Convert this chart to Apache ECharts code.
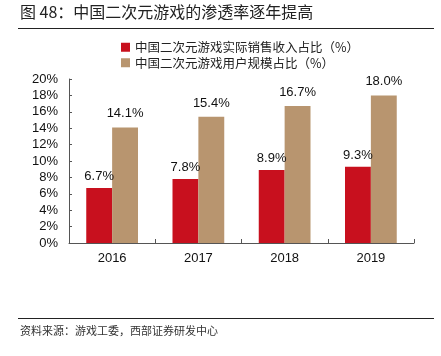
<!DOCTYPE html>
<html><head><meta charset="utf-8">
<script src="https://cdn.jsdelivr.net/npm/echarts@6/dist/echarts.min.js"></script>
<style>html,body{margin:0;padding:0;background:#fff}#c{width:441px;height:356px}</style>
</head><body><div id="c"></div>
<script>
var categories = ['2016', '2017', '2018', '2019'];
var salesShare = [6.7, 7.8, 8.9, 9.3];
var userShare = [14.1, 15.4, 16.7, 18.0];
var seriesNames = ['中国二次元游戏实际销售收入占比（%）', '中国二次元游戏用户规模占比（%）'];
var yTicks = [0, 2, 4, 6, 8, 10, 12, 14, 16, 18, 20];

var chart = echarts.init(document.getElementById('c'), null, {renderer: 'canvas'});
var font = '"Liberation Sans", Arial, sans-serif';
var cjk = '"Noto Sans CJK SC", sans-serif';
chart.setOption({
  animation: false,
  graphic: [
    {type: 'text', left: 20, top: 4, style: {text: '图 48：中国二次元游戏的渗透率逐年提高', font: '16px ' + cjk, fill: '#222'}},
    {type: 'line', shape: {x1: 18, y1: 28.5, x2: 434, y2: 28.5}, style: {stroke: '#222', lineWidth: 1}},
    {type: 'line', shape: {x1: 18, y1: 318.5, x2: 434, y2: 318.5}, style: {stroke: '#222', lineWidth: 1}},
    {type: 'text', left: 20, top: 325, style: {text: '资料来源：游戏工委，西部证券研发中心', font: '11px ' + cjk, fill: '#333'}}
  ],
  legend: {
    orient: 'vertical', left: 116, top: 36, itemWidth: 9, itemHeight: 9, itemGap: 3,
    textStyle: {fontFamily: cjk, fontSize: 12.5, color: '#222'},
    data: seriesNames.map(function (n) { return {name: n, icon: 'rect'}; })
  },
  grid: {left: 69, right: 27, top: 79, bottom: 113, containLabel: false},
  xAxis: {
    type: 'category', data: categories,
    axisLine: {lineStyle: {color: '#555', width: 1}},
    axisTick: {show: true, inside: true, length: 4, lineStyle: {color: '#555'}},
    axisLabel: {color: '#111', fontFamily: font, fontSize: 13, margin: 9}
  },
  yAxis: {
    type: 'value', min: 0, max: 20, interval: 2,
    axisLine: {show: true, lineStyle: {color: '#555', width: 1}},
    axisTick: {show: true, inside: true, length: 3, lineStyle: {color: '#555'}},
    splitLine: {show: false},
    axisLabel: {color: '#111', fontFamily: font, fontSize: 13, margin: 11, formatter: function (v) { return v + '%'; }}
  },
  series: [
    {name: seriesNames[0], type: 'bar', data: salesShare, barWidth: '30%', barGap: '0%',
     itemStyle: {color: '#C8101E'},
     label: {show: true, position: 'top', distance: 5, color: '#111', fontFamily: font, fontSize: 13, formatter: function (p) { return p.value.toFixed(1) + '%'; }}},
    {name: seriesNames[1], type: 'bar', data: userShare, barWidth: '30%', barGap: '0%',
     itemStyle: {color: '#B8956F'},
     label: {show: true, position: 'top', distance: 7, color: '#111', fontFamily: font, fontSize: 13, formatter: function (p) { return p.value.toFixed(1) + '%'; }}}
  ]
});
</script></body></html>
